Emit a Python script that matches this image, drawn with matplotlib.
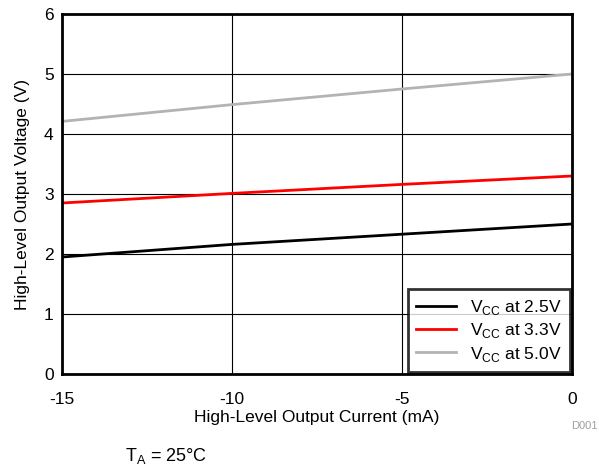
import matplotlib
matplotlib.use('Agg')
import matplotlib.pyplot as plt

plt.rcParams['font.family'] = ['Liberation Sans', 'DejaVu Sans']
plt.rcParams['axes.unicode_minus'] = False

# output current (mA) and high-level output voltage (V) per supply
current = [-15, -10, -5, 0]
v_25 = [1.95, 2.16, 2.33, 2.50]
v_33 = [2.85, 3.01, 3.16, 3.30]
v_50 = [4.21, 4.49, 4.75, 5.00]

series = [
    (v_25, 'black', r'V$_{\mathregular{CC}}$ at 2.5V'),
    (v_33, 'red', r'V$_{\mathregular{CC}}$ at 3.3V'),
    (v_50, '#b3b3b3', r'V$_{\mathregular{CC}}$ at 5.0V'),
]

fig = plt.figure(figsize=(5.99, 4.68), dpi=100)
ax = fig.add_axes([62 / 599, 1 - 374 / 468, 510 / 599, 360 / 468])

for vals, color, label in series:
    ax.plot(current, vals, color=color, lw=2, label=label)

ax.set_xlim(-15, 0)
ax.set_ylim(0, 6)
ax.set_xticks([-15, -10, -5, 0])
ax.set_yticks(range(0, 7))
ax.grid(True, color='black', lw=0.8)
ax.set_axisbelow(True)
for s in ax.spines.values():
    s.set_linewidth(2)
ax.tick_params(length=0, labelsize=12.5)
ax.tick_params(axis='x', pad=13)
ax.tick_params(axis='y', pad=6)

ax.set_xlabel('High-Level Output Current (mA)', fontsize=12.5, labelpad=2)
ax.set_ylabel('High-Level Output Voltage (V)', fontsize=12.5, labelpad=10)

leg = ax.legend(loc='lower right', fontsize=12.5, frameon=True, fancybox=False,
                bbox_to_anchor=(0.997, 0.005), borderaxespad=0,
                handlelength=2.3, handletextpad=0.8, labelspacing=0.25,
                borderpad=0.5)
leg.get_frame().set_edgecolor('black')
leg.get_frame().set_linewidth(2)

fig.text(598 / 599, 1 - 426 / 468, 'D001', color='#a0a0a0', fontsize=8,
         ha='right', va='center')
fig.text(125 / 599, 1 - 456 / 468, r'T$_{\mathregular{A}}$ = 25°C', fontsize=13,
         ha='left', va='center')

fig.savefig('out.png', dpi=100)
